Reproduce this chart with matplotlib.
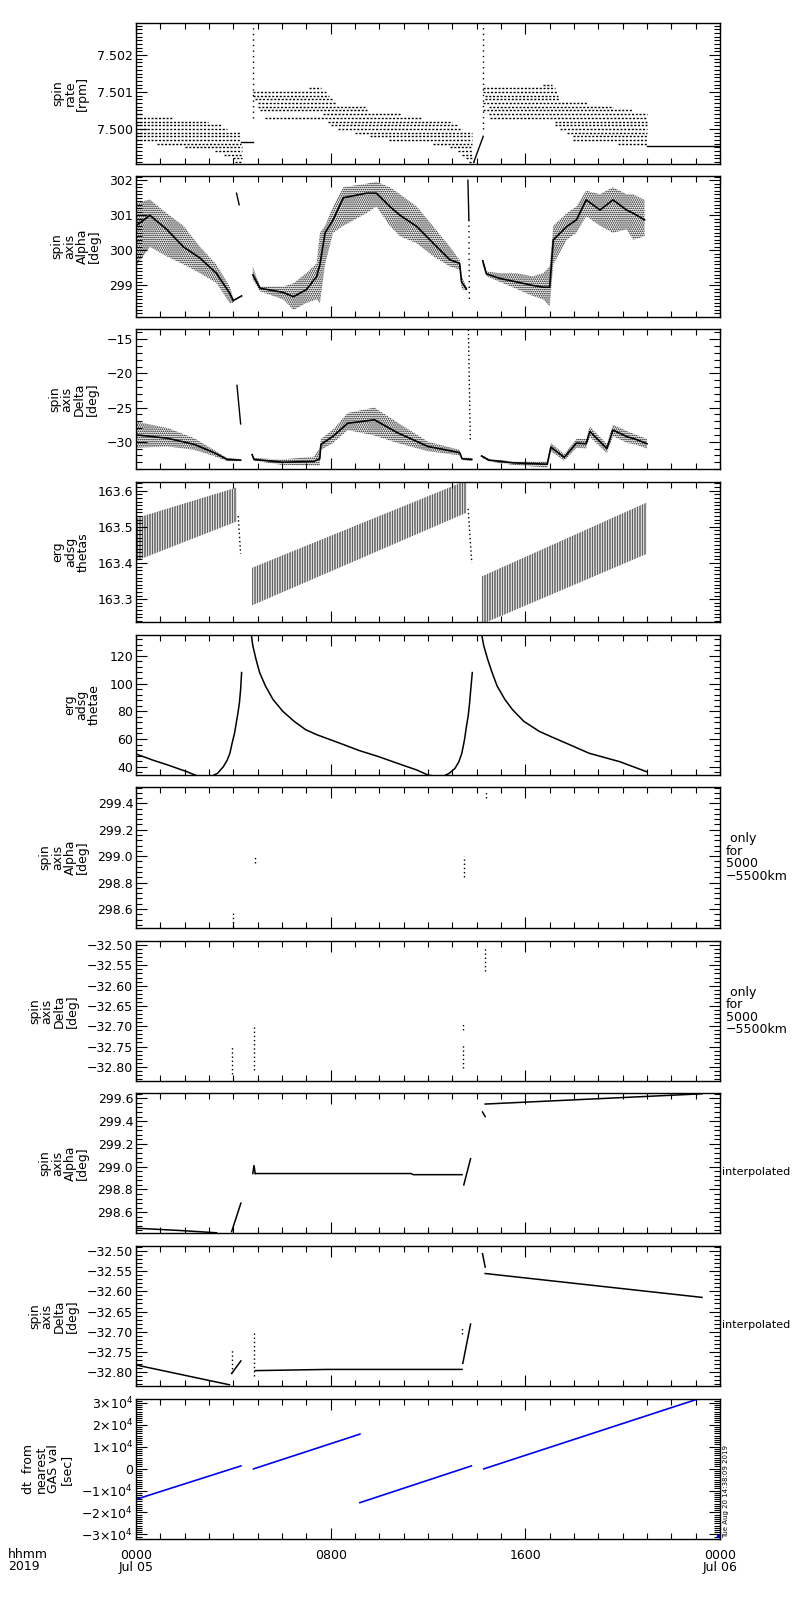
import matplotlib
matplotlib.use("Agg")
import matplotlib.pyplot as plt
from matplotlib.ticker import MultipleLocator, FuncFormatter

plt.rcParams['font.family'] = ['DejaVu Sans']
plt.rcParams['hatch.linewidth'] = 0.8

# time axis: hours after 2019-07-05 0000 UT
tick_hours = [0, 8, 16, 24]
tick_labels = ["0000\nJul 05", "0800", "1600", "0000\nJul 06"]

# ---- panel 1: spin rate [rpm], quantized levels (level, start h, end h)
rate_levels_a = [
    (7.5004, 0.0, 0.27), (7.5003, 0.0, 1.51), (7.5002, 0.0, 2.97),
    (7.5001, 0.0, 3.52), (7.5000, 0.0, 3.72), (7.4999, 0.0, 4.27),
    (7.4998, 0.0, 4.27), (7.4997, 0.0, 4.27), (7.4996, 0.85, 4.30),
    (7.4995, 2.0, 4.34), (7.4994, 3.25, 4.34), (7.4993, 3.6, 4.34),
    (7.4992, 4.0, 4.34), (7.4991, 4.07, 4.34),
]
rate_levels_b = [
    (7.5011, 7.1, 7.6), (7.5010, 4.82, 7.8), (7.5009, 4.82, 7.95),
    (7.5008, 4.9, 8.1), (7.5007, 5.0, 8.2), (7.5006, 5.0, 9.4),
    (7.5005, 5.1, 9.5), (7.5004, 7.7, 10.9), (7.5003, 5.3, 11.7),
    (7.5002, 7.9, 13.0), (7.5001, 8.0, 13.2), (7.5000, 8.3, 13.4),
    (7.4999, 9.0, 13.8), (7.4998, 9.6, 13.8), (7.4997, 10.4, 13.8),
    (7.4996, 12.2, 13.8), (7.4995, 12.9, 13.8), (7.4994, 13.25, 13.8),
    (7.4993, 13.4, 13.8), (7.4992, 13.55, 13.8), (7.4991, 13.68, 13.88),
]
rate_levels_c = [
    (7.5012, 16.74, 17.08), (7.5011, 14.27, 17.22), (7.5010, 14.27, 17.29),
    (7.5009, 14.34, 17.36), (7.5008, 14.34, 17.43), (7.5007, 14.27, 18.52),
    (7.5006, 14.5, 19.62), (7.5005, 14.27, 20.43), (7.5004, 14.5, 20.98),
    (7.5003, 14.55, 20.98), (7.5002, 17.22, 20.98), (7.5001, 17.22, 20.98),
    (7.5000, 17.43, 20.98), (7.4999, 17.7, 20.98), (7.4998, 17.97, 20.98),
    (7.4997, 17.97, 20.98), (7.4996, 19.82, 20.98),
]
rate_solid_h = [[4.30, 4.82], [13.88, 14.27], [20.98, 24.0]]
rate_solid_v = [[7.49964, 7.49964], [7.4991, 7.4998], [7.49955, 7.49955]]
rate_jump_h = [4.82, 14.27]
rate_jump_lo = [7.5003, 7.5000]
rate_jump_hi = [7.5029, 7.5029]

# ---- panel 2: spin axis Alpha [deg]
alpha_a_h = [0.0, 0.57, 1.26, 1.95, 2.63, 3.3, 3.85, 4.0]
alpha_a_lo = [299.55, 300.1, 299.83, 299.6, 299.35, 299.07, 298.5, 298.5]
alpha_a_hi = [301.35, 301.45, 301.06, 300.7, 300.1, 299.6, 298.97, 298.64]
alpha_a_mid = [300.7, 301.0, 300.6, 300.1, 299.78, 299.35, 298.78, 298.57]
alpha_tail_h = [4.0, 4.34]
alpha_tail_v = [298.57, 298.7]
alpha_b_h = [4.8, 5.1, 6.05, 6.47, 7.0, 7.42, 7.56, 7.77, 8.1, 8.52,
             9.47, 9.88, 10.43, 10.85, 11.54, 12.22, 12.9, 13.3, 13.38, 13.58]
alpha_b_lo = [299.16, 298.83, 298.6, 298.3, 298.5, 298.6, 298.5, 299.6, 300.5, 300.7,
              301.06, 301.25, 300.7, 300.4, 300.2, 299.83, 299.54, 299.45, 298.9, 298.85]
alpha_b_hi = [299.54, 298.97, 298.97, 299.06, 299.35, 299.63, 300.5, 300.7, 301.25, 301.8,
              301.9, 301.96, 301.8, 301.6, 301.25, 300.68, 300.1, 299.73, 299.26, 298.95]
alpha_b_mid = [299.3, 298.92, 298.8, 298.68, 298.88, 299.25, 299.6, 300.5, 300.87, 301.5,
               301.63, 301.63, 301.25, 301.0, 300.68, 300.2, 299.73, 299.63, 299.1, 298.9]
alpha_c_h = [14.25, 14.4, 14.95, 15.64, 16.3, 16.74, 17.0, 17.15, 17.7, 18.1,
             18.5, 19.07, 19.6, 20.16, 20.43, 20.9]
alpha_c_lo = [299.6, 299.26, 299.1, 298.9, 298.7, 298.6, 298.4, 299.6, 300.3, 300.5,
              300.97, 300.7, 300.5, 300.6, 300.3, 300.4]
alpha_c_hi = [299.8, 299.4, 299.35, 299.35, 299.26, 299.35, 299.54, 300.7, 301.06, 301.25,
              301.7, 301.6, 301.8, 301.6, 301.6, 301.44]
alpha_c_mid = [299.7, 299.33, 299.2, 299.1, 299.0, 298.95, 298.95, 300.3, 300.68, 300.87,
               301.44, 301.15, 301.44, 301.15, 301.06, 300.87]
alpha_spike1_h = [4.13, 4.24]
alpha_spike1_v = [301.63, 301.3]
alpha_spike2_h = [13.64, 13.68, 13.70]
alpha_spike2_v = [302.0, 300.87, 298.5]

# ---- panel 3: spin axis Delta [deg]
delta_a_h = [0.0, 1.3, 2.4, 3.2, 3.75, 4.3]
delta_a_lo = [-30.9, -30.7, -31.2, -32.1, -32.85, -32.85]
delta_a_hi = [-27.06, -28.0, -29.5, -31.2, -32.4, -32.55]
delta_a_mid = [-29.0, -29.5, -30.4, -31.6, -32.6, -32.7]
delta_b_h = [4.77, 4.85, 6.0, 7.3, 7.55, 7.6, 8.1, 8.7, 9.8, 10.75, 12.0, 13.3, 13.4, 13.8]
delta_b_lo = [-32.1, -32.8, -33.4, -33.5, -33.5, -31.2, -30.2, -28.3, -29.1, -30.2,
              -31.4, -32.0, -32.7, -32.8]
delta_b_hi = [-31.7, -32.4, -32.6, -32.2, -31.0, -29.6, -28.2, -25.8, -25.0, -27.2,
              -30.0, -31.2, -32.3, -32.4]
delta_b_mid = [-31.9, -32.6, -33.0, -32.9, -32.5, -30.4, -29.2, -27.3, -26.8, -28.7,
               -30.7, -31.6, -32.5, -32.6]
delta_c_h = [14.2, 14.5, 15.5, 16.9, 17.05, 17.6, 18.1, 18.5, 18.65, 19.35, 19.6, 20.2, 20.5, 21.0]
delta_c_lo = [-32.3, -32.9, -33.4, -33.8, -31.4, -32.8, -30.9, -31.0, -29.3, -31.7,
              -29.2, -30.2, -30.4, -31.0]
delta_c_hi = [-31.9, -32.5, -32.9, -32.9, -30.2, -31.8, -29.6, -29.6, -27.8, -30.3,
              -27.5, -28.5, -28.9, -29.6]
delta_c_mid = [-32.1, -32.7, -33.1, -33.3, -30.8, -32.3, -30.2, -30.3, -28.5, -31.0,
               -28.3, -29.3, -29.6, -30.3]
delta_spike1_h = [4.15, 4.3]
delta_spike1_v = [-21.75, -27.4]
delta_spike2_h = [13.66, 13.74]
delta_spike2_v = [-13.6, -30.0]

# ---- panel 4: erg adsg thetas
thetas_a_h = [0.0, 4.14]
thetas_a_lo = [163.406, 163.515]
thetas_a_hi = [163.524, 163.609]
thetas_b_h = [4.77, 13.58]
thetas_b_lo = [163.283, 163.539]
thetas_b_hi = [163.387, 163.628]
thetas_c_h = [14.21, 20.98]
thetas_c_lo = [163.231, 163.425]
thetas_c_hi = [163.363, 163.567]
thetas_drop_h = [[4.2, 4.3], [13.65, 13.8]]
thetas_drop_v = [[163.53, 163.425], [163.55, 163.40]]

# ---- panel 5: erg adsg thetae
thetae_a_h = [0.0, 0.68, 1.31, 2.09, 2.49, 3.12, 3.35, 3.59, 3.75, 3.86, 3.95,
              4.05, 4.12, 4.19, 4.25, 4.30, 4.34]
thetae_a_v = [49.2, 44.8, 41.2, 36.4, 33.5, 33.2, 35.2, 40.0, 44.8, 49.7, 57.0,
              64.2, 71.5, 78.8, 86.1, 95.8, 107.9]
thetae_b_h = [4.74, 4.80, 4.93, 5.08, 5.32, 5.63, 6.03, 6.50, 6.97, 7.44, 7.92, 8.55,
              9.18, 9.96, 10.75, 11.54, 12.01, 12.32, 12.64, 12.87, 13.11, 13.27, 13.39,
              13.5, 13.58, 13.65, 13.71, 13.77, 13.82]
thetae_b_v = [135.0, 127.3, 117.6, 107.9, 98.2, 88.5, 80.0, 72.7, 66.7, 63.0, 59.9, 55.8,
              51.6, 47.3, 42.4, 37.6, 33.9, 33.2, 33.2, 35.2, 38.8, 43.6, 49.7,
              59.4, 69.1, 76.4, 86.1, 98.2, 107.9]
thetae_c_h = [14.21, 14.29, 14.45, 14.61, 14.84, 15.16, 15.47, 15.94, 16.57, 17.04,
              17.83, 18.62, 19.88, 20.98]
thetae_c_v = [135.0, 127.3, 117.6, 109.1, 98.2, 88.5, 81.2, 72.7, 65.5, 61.8,
              55.8, 49.7, 43.6, 36.4]

# ---- panel 6 / 7: only for 5000-5500 km (short runs: hour, low, high)
alpha_sel_h = [3.98, 4.9, 13.46, 14.37]
alpha_sel_lo = [298.46, 298.945, 298.84, 299.44]
alpha_sel_hi = [298.575, 299.005, 299.0, 299.495]
delta_sel_h = [3.93, 4.86, 13.43, 13.43, 14.35]
delta_sel_lo = [-32.817, -32.808, -32.709, -32.804, -32.564]
delta_sel_hi = [-32.75, -32.70, -32.694, -32.746, -32.502]

# ---- panel 8: interpolated Alpha
alpha_int_h = [[0.0, 1.8, 3.31], [3.93, 4.31], [4.8, 4.85, 4.9], [4.9, 11.3, 11.4, 13.4],
               [13.47, 13.75], [14.24, 14.35], [14.35, 23.26]]
alpha_int_v = [[298.46, 298.44, 298.42], [298.43, 298.68], [298.94, 299.01, 298.94],
               [298.94, 298.94, 298.93, 298.93], [298.84, 299.07], [299.48, 299.44],
               [299.55, 299.64]]

# ---- panel 9: interpolated Delta
delta_int_h = [[0.0, 3.84], [3.93, 4.31], [4.9, 7.9, 13.4], [13.43, 13.75],
               [14.24, 14.35], [14.35, 23.26]]
delta_int_v = [[-32.782, -32.831], [-32.803, -32.772], [-32.796, -32.793, -32.793],
               [-32.778, -32.681], [-32.507, -32.54], [-32.556, -32.615]]
delta_int_dot_h = [3.93, 4.84, 13.4]
delta_int_dot_lo = [-32.803, -32.81, -32.705]
delta_int_dot_hi = [-32.745, -32.70, -32.69]

# ---- panel 10: dt from nearest GAS value [sec]
dt_h = [[0.0, 4.31], [4.83, 9.2], [9.2, 13.78], [14.29, 23.2]]
dt_v = [[-14030, 1200], [-150, 15690], [-15540, 1200], [-150, 32100]]
dt_dot_h = [23.9]
dt_dot_v = [-30900]

# panel layout in pixels (top, bottom) of an 800x1600 image
panel_px = [(23, 164), (176, 317), (329, 469), (482, 622), (635, 775),
            (787, 928), (941, 1081), (1093, 1233), (1246, 1386), (1399, 1539)]
ylabels = ["spin\nrate\n[rpm]", "spin\naxis\nAlpha\n[deg]", "spin\naxis\nDelta\n[deg]",
           "erg\nadsg\nthetas", "erg\nadsg\nthetae", "spin\naxis\nAlpha\n[deg]",
           "spin\naxis\nDelta\n[deg]", "spin\naxis\nAlpha\n[deg]", "spin\naxis\nDelta\n[deg]",
           "dt  from\nnearest\nGAS val\n[sec]"]
ylims = [(7.49905, 7.50287), (298.1, 302.12), (-34.0, -13.5), (163.237, 163.624),
         (34.0, 135.0), (298.456, 299.524), (-32.835, -32.490), (298.418, 299.647),
         (-32.834, -32.488), (-32100, 31700)]
ymajor = [0.001, 1, 5, 0.1, 20, 0.2, 0.05, 0.2, 0.05, 10000]
yminor = [0.0001, 0.1, 1, 0.01, 4, 0.04, 0.01, 0.04, 0.01, 1000]
yfmt = ["%.3f", "%d", "%d", "%.1f", "%d", "%.1f", "%.2f", "%.1f", "%.2f", None]

FS = 9
fig = plt.figure(figsize=(8, 16), dpi=100)
axes = []
for i, (t, b) in enumerate(panel_px):
    ax = fig.add_axes([136 / 800, 1 - b / 1600, 584 / 800, (b - t) / 1600])
    ax.set_xlim(0, 24)
    ax.set_ylim(*ylims[i])
    ax.xaxis.set_major_locator(MultipleLocator(8))
    ax.xaxis.set_minor_locator(MultipleLocator(1))
    ax.yaxis.set_major_locator(MultipleLocator(ymajor[i]))
    ax.yaxis.set_minor_locator(MultipleLocator(yminor[i]))
    ax.tick_params(which='both', direction='in', top=True, right=True, width=0.8,
                   labelsize=FS, pad=2)
    ax.tick_params(which='major', length=8)
    ax.tick_params(which='minor', length=4)
    ax.tick_params(axis='x', labelbottom=False)
    for s in ax.spines.values():
        s.set_linewidth(1.0)
    if yfmt[i]:
        f = yfmt[i]
        ax.yaxis.set_major_formatter(FuncFormatter(
            lambda v, p, f=f: (f % v).replace("-", "\u2212")))
    ax.set_ylabel(ylabels[i], fontsize=FS, linespacing=0.95, labelpad=6,
                  multialignment='center')
    axes.append(ax)

dot_ls = (0, (1.5, 1.2))

# panel 1
ax = axes[0]
for lev in (rate_levels_a, rate_levels_b, rate_levels_c):
    for v, h0, h1 in lev:
        ax.plot([h0, h1], [v, v], color='black', lw=1.0, ls=dot_ls)
for hh, vv in zip(rate_solid_h, rate_solid_v):
    ax.plot(hh, vv, color='black', lw=1.0)
ax.vlines(rate_jump_h, rate_jump_lo, rate_jump_hi, color='black', lw=1.0, ls=(0, (1, 3)))


# panel 2 / 3: scatter clouds as hatched envelopes with a darker core
def cloud(ax, h, lo, hi, mid):
    ax.fill_between(h, lo, hi, facecolor='none', edgecolor='black', hatch='........', lw=0)
    ax.plot(h, mid, color='black', lw=1.2)


ax = axes[1]
cloud(ax, alpha_a_h, alpha_a_lo, alpha_a_hi, alpha_a_mid)
cloud(ax, alpha_b_h, alpha_b_lo, alpha_b_hi, alpha_b_mid)
cloud(ax, alpha_c_h, alpha_c_lo, alpha_c_hi, alpha_c_mid)
ax.plot(alpha_tail_h, alpha_tail_v, color='black', lw=1.2)
ax.plot(alpha_spike1_h, alpha_spike1_v, color='black', lw=1.0)
ax.plot(alpha_spike2_h[:2], alpha_spike2_v[:2], color='black', lw=1.0)
ax.plot(alpha_spike2_h[1:], alpha_spike2_v[1:], color='black', lw=1.0, ls=(0, (1, 3)))

ax = axes[2]
cloud(ax, delta_a_h, delta_a_lo, delta_a_hi, delta_a_mid)
cloud(ax, delta_b_h, delta_b_lo, delta_b_hi, delta_b_mid)
cloud(ax, delta_c_h, delta_c_lo, delta_c_hi, delta_c_mid)
ax.plot(delta_spike1_h, delta_spike1_v, color='black', lw=1.0)
ax.plot(delta_spike2_h, delta_spike2_v, color='black', lw=1.0, ls=(0, (1, 2)))

# panel 4: striped bands, thinner hatch lines
ax = axes[3]
with plt.rc_context({'hatch.linewidth': 0.45}):
    for h, lo, hi in ((thetas_a_h, thetas_a_lo, thetas_a_hi),
                      (thetas_b_h, thetas_b_lo, thetas_b_hi),
                      (thetas_c_h, thetas_c_lo, thetas_c_hi)):
        band = ax.fill_between(h, lo, hi, facecolor='none', edgecolor='black',
                               hatch='||||||||||', lw=0)
        if hasattr(band, 'set_hatch_linewidth'):
            band.set_hatch_linewidth(0.45)
for hh, vv in zip(thetas_drop_h, thetas_drop_v):
    ax.plot(hh, vv, color='black', lw=1.0, ls=(0, (1, 2)))

# panel 5
ax = axes[4]
for h, v in ((thetae_a_h, thetae_a_v), (thetae_b_h, thetae_b_v), (thetae_c_h, thetae_c_v)):
    ax.plot(h, v, color='black', lw=1.1)

# panel 6 / 7
axes[5].vlines(alpha_sel_h, alpha_sel_lo, alpha_sel_hi, color='black', lw=1.0, ls=(0, (1, 2)))
axes[6].vlines(delta_sel_h, delta_sel_lo, delta_sel_hi, color='black', lw=1.0, ls=(0, (1, 2)))

# panel 8 / 9
for hh, vv in zip(alpha_int_h, alpha_int_v):
    axes[7].plot(hh, vv, color='black', lw=1.1)
for hh, vv in zip(delta_int_h, delta_int_v):
    axes[8].plot(hh, vv, color='black', lw=1.1)
axes[8].vlines(delta_int_dot_h, delta_int_dot_lo, delta_int_dot_hi, color='black', lw=1.0,
               ls=(0, (1, 2)))

# panel 10
ax = axes[9]
for hh, vv in zip(dt_h, dt_v):
    ax.plot(hh, vv, color='blue', lw=1.2)
ax.plot(dt_dot_h, dt_dot_v, 's', color='blue', ms=2)


def sci(v, p):
    if abs(v) < 1:
        return "0"
    m = int(round(v / 1e4))
    sgn = "\u2212" if m < 0 else ""
    return sgn + r"$%d{\times}10^{4}$" % abs(m)


ax.yaxis.set_major_formatter(FuncFormatter(sci))
ax.set_xticks(tick_hours)
ax.set_xticklabels(tick_labels, fontsize=FS, linespacing=0.95)
ax.tick_params(axis='x', labelbottom=True, pad=7)
fig.text(8 / 800, 1 - 1548 / 1600, "hhmm\n2019", fontsize=FS, va='top', ha='left',
         linespacing=0.95)

# right-hand annotations
for i in (5, 6):
    t, b = panel_px[i]
    fig.text(726 / 800, 1 - (t + b) / 2 / 1600, " only\nfor\n5000\n\u22125500km",
             fontsize=FS, va='center', ha='left', linespacing=0.95)
for i in (7, 8):
    t, b = panel_px[i]
    fig.text(722 / 800, 1 - ((t + b) / 2 + 9) / 1600, "interpolated",
             fontsize=8, va='center', ha='left')
fig.text(723 / 800, 1 - 1538 / 1600, "Tue Aug 20 14:38:09 2019", fontsize=5,
         rotation=90, va='bottom', ha='left')

fig.savefig("out.png", dpi=100)
